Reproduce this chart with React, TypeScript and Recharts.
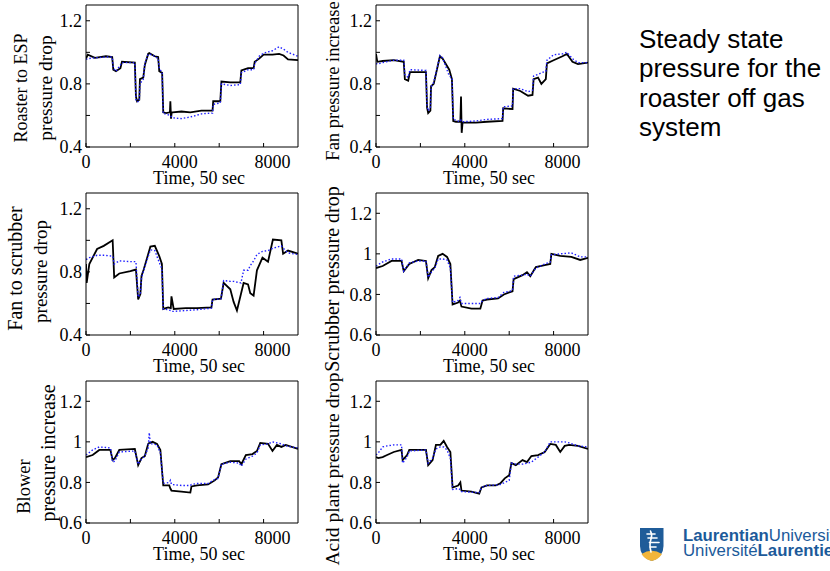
import React from "react";
import { LineChart, Line, XAxis, YAxis } from "recharts";

const SERIF = '"Liberation Serif", "Times New Roman", serif';
const SANS = '"Liberation Sans", Arial, sans-serif';

// time axis (samples of 50 sec)
const timeTicks = [0, 2000, 4000, 6000, 8000];
const timeLabels = [0, 4000, 8000];
const timeMax = 9550;
// the exported figure draws the time labels a little right of their ticks
const timeLabelNudge: Record<number, number> = { 0: 0, 4000: 5, 8000: 9 };

// y ticks
const wideTicks = [0.4, 0.6, 0.8, 1.0, 1.2];
const wideLabels = [0.4, 0.8, 1.2];
const narrowTicks = [0.6, 0.8, 1.0, 1.2];

// roaster to ESP pressure drop
const espTime = [0, 80, 400, 900, 1180, 1230, 1350, 1550, 1620, 2200, 2250, 2300, 2400, 2430, 2580, 2650, 2800, 2850, 3100, 3250, 3300, 3430, 3480, 3600, 3780, 3800, 3830, 3860, 3900, 4300, 4700, 5200, 5700, 5730, 6050, 6100, 6500, 6950, 7000, 7300, 7550, 7600, 7800, 8000, 8400, 8700, 8900, 9100, 9550];
const espMeasured = [0.96, 0.985, 0.965, 0.975, 0.97, 0.89, 0.88, 0.9, 0.94, 0.935, 0.72, 0.69, 0.7, 0.83, 0.84, 0.92, 0.99, 0.995, 0.975, 0.97, 0.88, 0.87, 0.62, 0.615, 0.62, 0.69, 0.58, 0.62, 0.62, 0.625, 0.62, 0.63, 0.63, 0.69, 0.69, 0.815, 0.81, 0.81, 0.885, 0.9, 0.9, 0.94, 0.96, 0.985, 0.985, 0.99, 0.98, 0.955, 0.95];
const espModel = [0.955, 0.96, 0.965, 0.97, 0.97, 0.9, 0.88, 0.92, 0.935, 0.935, 0.7, 0.685, 0.69, 0.8, 0.83, 0.93, 0.985, 0.99, 0.975, 0.96, 0.9, 0.87, 0.61, 0.61, 0.6, 0.6, 0.595, 0.59, 0.585, 0.58, 0.59, 0.61, 0.615, 0.67, 0.68, 0.8, 0.79, 0.795, 0.87, 0.89, 0.89, 0.93, 0.975, 0.995, 1.01, 1.035, 1.02, 1.0, 0.975];

// fan pressure increase
const fanTime = [0, 60, 300, 800, 1250, 1300, 1450, 1530, 2250, 2300, 2350, 2450, 2480, 2600, 2880, 3000, 3300, 3420, 3480, 3600, 3800, 3830, 3860, 3900, 4500, 5000, 5700, 5730, 6150, 6180, 6500, 6850, 7050, 7100, 7300, 7450, 7650, 7700, 8000, 8400, 8600, 8850, 9100, 9550];
const fanMeasured = [0.99, 0.94, 0.945, 0.95, 0.94, 0.83, 0.82, 0.875, 0.875, 0.65, 0.615, 0.63, 0.785, 0.8, 0.975, 0.96, 0.89, 0.83, 0.565, 0.56, 0.56, 0.72, 0.49, 0.555, 0.555, 0.56, 0.565, 0.645, 0.64, 0.77, 0.755, 0.725, 0.73, 0.83, 0.84, 0.8, 0.83, 0.93, 0.95, 0.975, 0.99, 0.94, 0.925, 0.935];
const fanModel = [0.93, 0.925, 0.935, 0.95, 0.95, 0.86, 0.84, 0.89, 0.885, 0.66, 0.63, 0.65, 0.78, 0.81, 0.98, 0.965, 0.85, 0.84, 0.575, 0.57, 0.56, 0.57, 0.565, 0.56, 0.565, 0.575, 0.58, 0.655, 0.66, 0.77, 0.77, 0.75, 0.76, 0.85, 0.86, 0.87, 0.88, 0.95, 0.985, 0.99, 1.0, 0.96, 0.935, 0.935];

// fan to scrubber pressure drop
const ductTime = [0, 30, 150, 500, 800, 1200, 1270, 1500, 2000, 2250, 2350, 2450, 2500, 2600, 2900, 3100, 3300, 3420, 3480, 3700, 3820, 3850, 3950, 4500, 5000, 5650, 5700, 6080, 6200, 6500, 6650, 6800, 6980, 7100, 7300, 7400, 7550, 7700, 7950, 8200, 8420, 8800, 8880, 9100, 9550];
const ductMeasured = [0.85, 0.73, 0.85, 0.945, 0.965, 1.0, 0.765, 0.79, 0.805, 0.815, 0.625, 0.66, 0.775, 0.815, 0.96, 0.965, 0.9, 0.85, 0.565, 0.575, 0.57, 0.645, 0.565, 0.57, 0.57, 0.575, 0.625, 0.63, 0.73, 0.69, 0.61, 0.555, 0.66, 0.73, 0.72, 0.665, 0.65, 0.81, 0.89, 0.865, 1.005, 1.0, 0.915, 0.935, 0.915];
const ductModel = [0.88, 0.88, 0.89, 0.905, 0.905, 0.9, 0.85, 0.87, 0.865, 0.865, 0.64, 0.66, 0.76, 0.81, 0.94, 0.935, 0.86, 0.82, 0.565, 0.56, 0.555, 0.55, 0.55, 0.555, 0.56, 0.57, 0.625, 0.63, 0.745, 0.74, 0.74, 0.735, 0.73, 0.81, 0.81, 0.84, 0.87, 0.91, 0.93, 0.935, 0.95, 0.965, 0.95, 0.92, 0.91];

// scrubber pressure drop
const scrubTime = [0, 300, 700, 1150, 1250, 1500, 1900, 2250, 2350, 2500, 2650, 2800, 3000, 3200, 3350, 3450, 3700, 3780, 3850, 4300, 4700, 4800, 5000, 5500, 5760, 6000, 6150, 6200, 6600, 6800, 6950, 7200, 7600, 7850, 7900, 8300, 8800, 9200, 9550];
const scrubMeasured = [0.93, 0.94, 0.965, 0.965, 0.915, 0.95, 0.97, 0.965, 0.88, 0.92, 0.935, 0.99, 1.0, 0.985, 0.95, 0.75, 0.76, 0.77, 0.74, 0.73, 0.73, 0.77, 0.775, 0.78, 0.8, 0.81, 0.815, 0.875, 0.895, 0.91, 0.89, 0.935, 0.945, 0.95, 1.0, 0.99, 0.985, 0.97, 0.98];
const scrubModel = [0.94, 0.96, 0.975, 0.975, 0.915, 0.955, 0.965, 0.965, 0.885, 0.91, 0.93, 0.975, 0.975, 0.97, 0.93, 0.76, 0.77, 0.785, 0.755, 0.755, 0.755, 0.77, 0.78, 0.785, 0.81, 0.815, 0.82, 0.89, 0.895, 0.9, 0.89, 0.93, 0.95, 0.96, 0.995, 1.0, 1.005, 0.985, 0.985];

// blower pressure increase
const blowerTime = [0, 300, 600, 1100, 1200, 1300, 1500, 2200, 2350, 2500, 2650, 2800, 2850, 2900, 3000, 3200, 3350, 3480, 3750, 3800, 3850, 4300, 4700, 4750, 5000, 5500, 5800, 5950, 6100, 6500, 6900, 7000, 7200, 7500, 7700, 7850, 8200, 8400, 8600, 8800, 9000, 9550];
const blowerMeasured = [0.925, 0.935, 0.96, 0.96, 0.91, 0.92, 0.96, 0.965, 0.885, 0.92, 0.93, 0.99, 0.995, 0.995, 1.0, 0.99, 0.96, 0.785, 0.785, 0.77, 0.76, 0.755, 0.75, 0.78, 0.785, 0.79, 0.81, 0.825, 0.89, 0.905, 0.905, 0.89, 0.935, 0.94, 0.955, 0.995, 0.99, 0.955, 0.985, 0.975, 0.985, 0.965];
const blowerModel = [0.935, 0.96, 0.975, 0.97, 0.9, 0.905, 0.95, 0.955, 0.89, 0.915, 0.93, 0.97, 1.045, 0.99, 0.99, 0.985, 0.945, 0.795, 0.8, 0.81, 0.79, 0.785, 0.785, 0.79, 0.795, 0.795, 0.815, 0.82, 0.89, 0.9, 0.895, 0.88, 0.915, 0.93, 0.945, 0.985, 0.99, 1.0, 0.995, 0.99, 0.98, 0.97];

// acid plant pressure drop
const acidTime = [0, 100, 300, 500, 800, 1150, 1200, 1400, 1500, 2250, 2350, 2550, 2700, 2900, 3050, 3200, 3350, 3450, 3700, 3800, 3850, 4300, 4650, 4750, 5000, 5400, 5600, 5800, 6000, 6100, 6300, 6600, 6800, 7000, 7300, 7600, 7850, 8100, 8300, 8500, 8700, 9100, 9550];
const acidMeasured = [0.925, 0.92, 0.925, 0.935, 0.95, 0.96, 0.91, 0.935, 0.96, 0.96, 0.885, 0.91, 0.985, 0.985, 1.005, 0.975, 0.95, 0.775, 0.785, 0.8, 0.76, 0.755, 0.745, 0.775, 0.785, 0.785, 0.795, 0.82, 0.835, 0.895, 0.885, 0.91, 0.9, 0.93, 0.935, 0.95, 0.99, 0.985, 0.95, 0.98, 0.985, 0.98, 0.965];
const acidModel = [0.935, 0.945, 0.975, 0.98, 0.985, 0.985, 0.895, 0.925, 0.955, 0.96, 0.895, 0.92, 0.965, 0.975, 0.975, 0.96, 0.92, 0.765, 0.77, 0.765, 0.755, 0.752, 0.75, 0.775, 0.785, 0.787, 0.79, 0.8, 0.81, 0.895, 0.89, 0.89, 0.895, 0.9, 0.925, 0.95, 1.0, 1.0, 1.0, 1.0, 0.995, 0.98, 0.975];

const titleLines = ["Steady state", "pressure for the", "roaster off gas", "system"];

// plot box is 212 x 142, chart origin sits 86px left / 5px above it
const BOX_W = 212;
const BOX_H = 142;
const PAD_L = 86;
const PAD_T = 5;
const CHART_W = 300;

type AxisTitle = { text: string; x: number; y: number; size: number };

interface PanelProps {
  x: number;
  y: number;
  height?: number;
  time: number[];
  measured: number[];
  model: number[];
  yMin: number;
  yTicks: number[];
  yShown?: number[];
  labels: AxisTitle[];
}

const fmtY = (shown?: number[]) => (v: number) => {
  if (shown && !shown.some((s) => Math.abs(s - v) < 1e-6)) return "";
  return Math.abs(v - 1) < 1e-6 ? "1" : String(v);
};

const TimeTick = (props: any) => {
  const { x, y, payload } = props;
  const v = payload?.value as number;
  if (!timeLabels.includes(v)) return <g />;
  return (
    <text
      x={x + (timeLabelNudge[v] ?? 0)}
      y={y}
      dy="0.71em"
      textAnchor="middle"
      fontSize={18}
      fontFamily={SERIF}
      fill="#000"
    >
      {v}
    </text>
  );
};

const Panel: React.FC<PanelProps> = ({
  x,
  y,
  height = 190,
  time,
  measured,
  model,
  yMin,
  yTicks,
  yShown,
  labels,
}) => {
  const rows = time.map((t, i) => ({ t, measured: measured[i], model: model[i] }));
  const tickFont = { fill: "#000", fontSize: 18, fontFamily: SERIF };
  const axisStroke = { stroke: "#000", strokeWidth: 1 };

  // every axis takes 1px from its margin (recharts skips 0-sized axes)
  return (
    <div style={{ position: "absolute", left: x - PAD_L, top: y - PAD_T }}>
      <LineChart
        width={CHART_W}
        height={height}
        data={rows}
        margin={{
          top: PAD_T - 1,
          right: CHART_W - PAD_L - BOX_W - 1,
          bottom: height - PAD_T - BOX_H - 1,
          left: PAD_L - 1,
        }}
      >
        <XAxis
          dataKey="t"
          type="number"
          domain={[0, timeMax]}
          allowDataOverflow
          ticks={timeTicks}
          interval={0}
          height={1}
          tickSize={-4}
          tickMargin={12}
          axisLine={axisStroke}
          tickLine={axisStroke}
          tick={<TimeTick />}
          label={() => (
            <text x={PAD_L + BOX_W / 2 + 7} y={PAD_T + BOX_H + 37} textAnchor="middle" fontSize={18} fontFamily={SERIF} fill="#000">
              Time, 50 sec
            </text>
          )}
        />
        <XAxis
          xAxisId="top"
          orientation="top"
          type="number"
          domain={[0, timeMax]}
          allowDataOverflow
          ticks={timeTicks}
          interval={0}
          height={1}
          tickSize={-4}
          axisLine={axisStroke}
          tickLine={axisStroke}
          tick={false}
        />
        <YAxis
          type="number"
          domain={[yMin, 1.3]}
          allowDataOverflow
          ticks={yTicks}
          interval={0}
          width={1}
          tickSize={-4}
          tickMargin={8}
          axisLine={axisStroke}
          tickLine={axisStroke}
          tick={tickFont}
          tickFormatter={fmtY(yShown)}
          label={() => (
            <g>
              {labels.map((l) => (
                <text
                  key={l.text}
                  x={l.x}
                  y={l.y}
                  transform={`rotate(-90 ${l.x} ${l.y})`}
                  textAnchor="middle"
                  fontSize={l.size}
                  fontFamily={SERIF}
                  fill="#000"
                >
                  {l.text}
                </text>
              ))}
            </g>
          )}
        />
        <YAxis
          yAxisId="right"
          orientation="right"
          type="number"
          domain={[yMin, 1.3]}
          allowDataOverflow
          ticks={yTicks}
          interval={0}
          width={1}
          tickSize={-4}
          axisLine={axisStroke}
          tickLine={axisStroke}
          tick={false}
        />
        <Line
          type="linear"
          dataKey="measured"
          stroke="#000"
          strokeWidth={1.8}
          dot={false}
          isAnimationActive={false}
        />
        <Line
          type="linear"
          dataKey="model"
          stroke="#1f1fff"
          strokeWidth={1.4}
          strokeDasharray="1.5 2"
          dot={false}
          isAnimationActive={false}
        />
      </LineChart>
    </div>
  );
};

// label x is the baseline column in chart coords (rotated text), y its centre
const App: React.FC = () => (
  <div
    style={{
      position: "fixed",
      left: 0,
      top: 0,
      width: 830,
      height: 571,
      background: "#fff",
      overflow: "hidden",
    }}
  >
    <style>{`.recharts-surface { overflow: visible; }`}</style>
    <Panel
      x={86}
      y={5}
      time={espTime}
      measured={espMeasured}
      model={espModel}
      yMin={0.4}
      yTicks={wideTicks}
      yShown={wideLabels}
      labels={[
        { text: "Roaster to ESP", x: 27, y: 88, size: 18 },
        { text: "pressure drop", x: 52, y: 88, size: 19.5 },
      ]}
    />
    <Panel
      x={376}
      y={5}
      time={fanTime}
      measured={fanMeasured}
      model={fanModel}
      yMin={0.4}
      yTicks={wideTicks}
      yShown={wideLabels}
      labels={[{ text: "Fan pressure increase", x: 49, y: 81, size: 18.5 }]}
    />
    <Panel
      x={86}
      y={193}
      time={ductTime}
      measured={ductMeasured}
      model={ductModel}
      yMin={0.4}
      yTicks={wideTicks}
      yShown={wideLabels}
      labels={[
        { text: "Fan to scrubber", x: 22, y: 80.5, size: 20 },
        { text: "pressure drop", x: 47, y: 83.5, size: 19 },
      ]}
    />
    <Panel
      x={376}
      y={193}
      time={scrubTime}
      measured={scrubMeasured}
      model={scrubModel}
      yMin={0.6}
      yTicks={narrowTicks}
      labels={[{ text: "Scrubber pressure drop", x: 49, y: 91, size: 20 }]}
    />
    <Panel
      x={86}
      y={381}
      time={blowerTime}
      measured={blowerMeasured}
      model={blowerModel}
      yMin={0.6}
      yTicks={narrowTicks}
      labels={[
        { text: "Blower", x: 30, y: 110.5, size: 18.5 },
        { text: "pressure increase", x: 55, y: 77, size: 20 },
      ]}
    />
    <Panel
      x={376}
      y={381}
      height={190}
      time={acidTime}
      measured={acidMeasured}
      model={acidModel}
      yMin={0.6}
      yTicks={narrowTicks}
      labels={[{ text: "Acid plant pressure drop", x: 49, y: 93, size: 19.6 }]}
    />

    <div
      style={{
        position: "absolute",
        left: 639,
        top: 25,
        fontFamily: SANS,
        fontSize: 26,
        lineHeight: "29.3px",
        color: "#000",
        whiteSpace: "nowrap",
      }}
    >
      {titleLines.map((l) => (
        <div key={l}>{l}</div>
      ))}
    </div>

    <svg
      width={200}
      height={56}
      style={{ position: "absolute", left: 630, top: 515 }}
    >
      <path d="M10,13 H33.5 V31 Q33.5,42 21.75,46 Q10,42 10,31 Z" fill="#1f5c99" />
      <path d="M11.5,39 Q21.75,32.5 32,39 Q28.5,44.5 21.75,46 Q15,44.5 11.5,39 Z" fill="#f2b53a" />
      <g stroke="#fff" strokeWidth={1.6} fill="none" strokeLinecap="round">
        <path d="M21,37 Q19,30 21,24 Q22.5,20 20.5,16" />
        <path d="M17,19 H25" />
        <path d="M18,23 H27" />
        <path d="M19.5,27.5 H29" />
        <path d="M20,32 H26" />
      </g>
      <text x={53} y={26} fontFamily={SANS} fontSize={16.8} fill="#1c5a9a">
        <tspan fontWeight="bold">Laurentian</tspan>
        <tspan>University</tspan>
      </text>
      <text x={53} y={41} fontFamily={SANS} fontSize={16.8} fill="#1c5a9a">
        <tspan>Université</tspan>
        <tspan fontWeight="bold">Laurentienne</tspan>
      </text>
    </svg>
  </div>
);

export default App;
